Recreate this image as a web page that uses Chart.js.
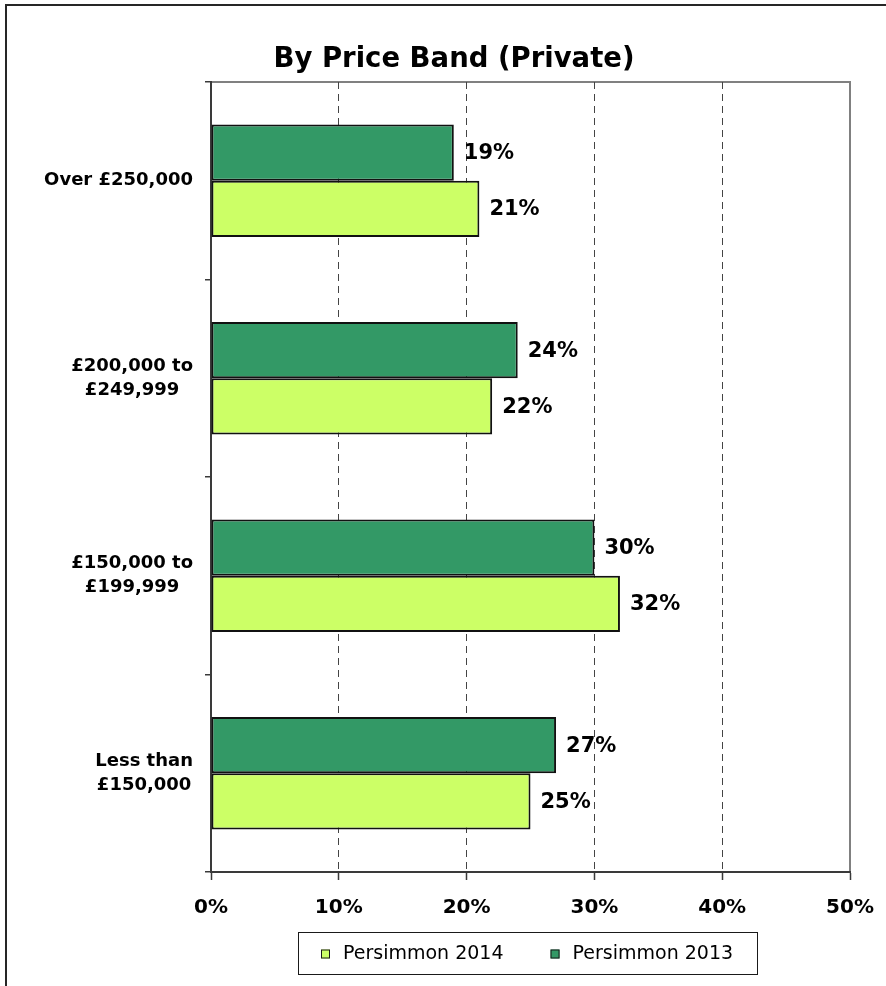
<!DOCTYPE html>
<html>
<head>
<meta charset="utf-8">
<script src="https://cdn.jsdelivr.net/npm/chart.js@4.4.1/dist/chart.umd.min.js"></script>
<style>
  html, body { margin: 0; padding: 0; background: #fff; }
  #wrap { width: 886px; height: 986px; position: relative; }
  canvas { display: block; }
</style>
</head>
<body>
<div id="wrap"><canvas id="chart" width="886" height="986"></canvas></div>
<script>
// Share of private completions by price band
const chartTitle = 'By Price Band (Private)';
const priceBands = [
  ['Over £250,000'],
  ['£200,000 to', '£249,999'],
  ['£150,000 to', '£199,999'],
  ['Less than', '£150,000']
];
const seriesNames = ['Persimmon 2013', 'Persimmon 2014'];
const share2013 = [19, 24, 30, 27];
const share2014 = [21, 22, 32, 25];
const axisMin = 0;
const axisMax = 50;
const axisStep = 10;

const FONT = '"DejaVu Sans", "Liberation Sans", Arial, sans-serif';

// Frame, title, band labels, value labels and boxed legend
const decor = {
  id: 'decor',
  beforeDraw(chart) {
    const ctx = chart.ctx, a = chart.chartArea;
    ctx.save();
    ctx.fillStyle = '#ffffff';
    ctx.fillRect(0, 0, chart.width, chart.height);
    ctx.strokeStyle = '#262626';
    ctx.lineWidth = 2;
    ctx.beginPath();
    ctx.moveTo(6, chart.height);
    ctx.lineTo(6, 5);
    ctx.lineTo(chart.width, 5);
    ctx.stroke();
    ctx.strokeStyle = '#808080';
    ctx.lineWidth = 2;
    ctx.beginPath();
    ctx.moveTo(a.left, a.top);
    ctx.lineTo(a.right, a.top);
    ctx.lineTo(a.right, a.bottom);
    ctx.stroke();
    ctx.restore();
  },
  afterDraw(chart) {
    const ctx = chart.ctx;
    const yScale = chart.scales.y;
    ctx.save();
    ctx.fillStyle = '#000';

    // title
    ctx.font = 'bold 27.5px ' + FONT;
    ctx.textAlign = 'center';
    ctx.textBaseline = 'alphabetic';
    ctx.fillText(chartTitle, 454, 67);

    // band labels: block right-aligned to the axis, lines centred within it
    ctx.font = 'bold 18px ' + FONT;
    ctx.textBaseline = 'middle';
    const lineH = 24;
    chart.data.labels.forEach((lines, i) => {
      const cy = yScale.getPixelForValue(i);
      const w = Math.max(...lines.map(l => ctx.measureText(l).width));
      const cx = yScale.right - 18 - w / 2;
      lines.forEach((l, k) => {
        ctx.fillText(l, cx, cy + (k - (lines.length - 1) / 2) * lineH);
      });
    });

    // value labels at the bar ends
    ctx.font = 'bold 21px ' + FONT;
    ctx.textAlign = 'left';
    chart.data.datasets.forEach((ds, di) => {
      chart.getDatasetMeta(di).data.forEach((bar, j) => {
        ctx.fillText(ds.data[j] + '%', bar.x + 10, bar.y + 1);
      });
    });

    // legend (2014 listed first)
    const box = { x: 298, y: 932, w: 459, h: 42 };
    ctx.strokeStyle = '#1a1a1a';
    ctx.lineWidth = 1;
    ctx.strokeRect(box.x + 0.5, box.y + 0.5, box.w, box.h);
    ctx.font = '19px ' + FONT;
    const order = chart.data.datasets.map((d, i) => i).reverse();
    const sq = 9, sqGap = 13, itemGap = 47;
    const widths = order.map(i => sq + sqGap + ctx.measureText(chart.data.datasets[i].label).width);
    const total = widths.reduce((s, w) => s + w, 0) + itemGap * (order.length - 1);
    let x = Math.round(box.x + (box.w - total) / 2);
    const cy = box.y + box.h / 2;
    order.forEach((i, k) => {
      const ds = chart.data.datasets[i];
      ctx.fillStyle = ds.backgroundColor;
      ctx.fillRect(x, cy - sq / 2 + 1, sq, sq);
      ctx.strokeRect(x + 0.5, cy - sq / 2 + 1.5, sq - 1, sq - 1);
      ctx.fillStyle = '#000';
      ctx.fillText(ds.label, x + sq + sqGap, cy + 1);
      x += widths[k] + itemGap;
    });
    ctx.restore();
  }
};

new Chart(document.getElementById('chart'), {
  type: 'bar',
  data: {
    labels: priceBands,
    datasets: [
      {
        label: seriesNames[0],
        data: share2013,
        backgroundColor: '#339966',
        borderColor: '#111111',
        borderWidth: 2,
        borderSkipped: false
      },
      {
        label: seriesNames[1],
        data: share2014,
        backgroundColor: '#CCFF66',
        borderColor: '#111111',
        borderWidth: 2,
        borderSkipped: false
      }
    ]
  },
  options: {
    indexAxis: 'y',
    responsive: false,
    animation: false,
    devicePixelRatio: 1,
    categoryPercentage: 0.57,
    barPercentage: 1.0,
    layout: { padding: { left: 0, right: 36, top: 82, bottom: 68 } },
    plugins: {
      legend: { display: false },
      title: { display: false },
      tooltip: { enabled: false }
    },
    scales: {
      x: {
        min: axisMin,
        max: axisMax,
        afterFit(scale) {
          scale.height = 46;
          // the end labels fit inside the outer padding already
          scale.paddingLeft = 0;
          scale.paddingRight = 0;
        },
        ticks: {
          stepSize: axisStep,
          padding: 16,
          color: '#000',
          font: { family: FONT, size: 20, weight: 'bold' },
          callback: v => v + '%'
        },
        grid: {
          color: ctx => (ctx.tick && (ctx.tick.value === axisMin || ctx.tick.value === axisMax)) ? 'rgba(0,0,0,0)' : '#444444',
          lineWidth: 1,
          tickColor: '#3a3a3a',
          tickLength: 8,
          tickWidth: 1.5
        },
        border: { display: true, color: '#3a3a3a', width: 2, dash: [7, 5] }
      },
      y: {
        afterFit(scale) { scale.width = 211; },
        ticks: { display: false },
        grid: {
          drawOnChartArea: false,
          color: '#3a3a3a',
          tickLength: 6,
          lineWidth: 1.5
        },
        border: { display: true, color: '#3a3a3a', width: 2 }
      }
    }
  },
  plugins: [decor]
});
</script>
</body>
</html>
